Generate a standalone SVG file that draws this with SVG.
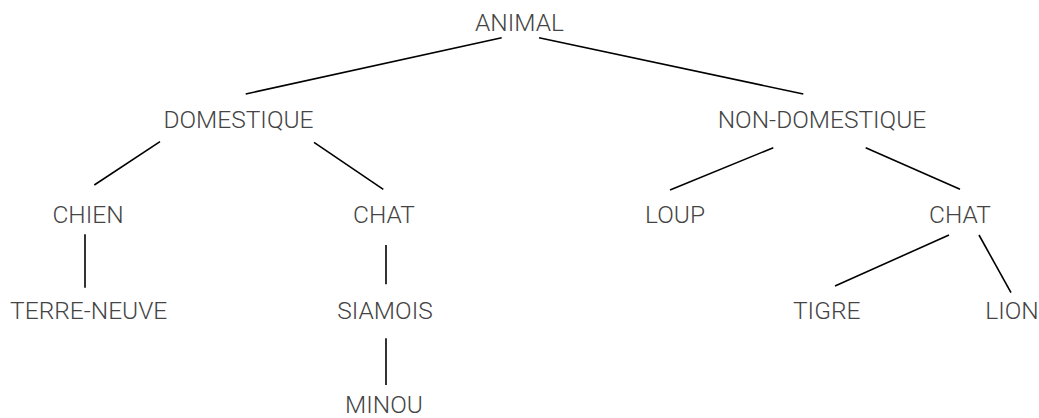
<svg xmlns="http://www.w3.org/2000/svg" width="1039" height="418" viewBox="0 0 1039 418">
<style>
.n text{font-family:Roboto,"Liberation Sans",sans-serif;font-weight:300;font-size:24.5px;fill:#444;text-anchor:middle}
.e line{stroke:#000;stroke-width:1.6;stroke-linecap:butt}
</style>
<rect width="1039" height="418" fill="#fff"/>
<g class="e" id="connectors">
<line x1="501.7" y1="37.7" x2="245.7" y2="94"/>
<line x1="539" y1="37.7" x2="803.3" y2="94"/>
<line x1="160" y1="141.7" x2="94.3" y2="185"/>
<line x1="314" y1="142.3" x2="383.3" y2="189.3"/>
<line x1="85" y1="234.3" x2="85" y2="287.7" stroke-width="2"/>
<line x1="386" y1="245" x2="386" y2="284.3" stroke-width="2"/>
<line x1="386" y1="338.3" x2="386" y2="385" stroke-width="2"/>
<line x1="773.3" y1="147.7" x2="670" y2="190"/>
<line x1="865.7" y1="147.7" x2="960" y2="189.3"/>
<line x1="949" y1="235" x2="835" y2="286"/>
<line x1="979" y1="235" x2="1011" y2="292.7"/>
</g>
<g class="n">
<g id="animal"><text x="519.5" y="31">ANIMAL</text></g>
<g id="domestique"><text x="238.5" y="128">DOMESTIQUE</text></g>
<g id="non-domestique"><text x="822" y="127.5">NON-DOMESTIQUE</text></g>
<g id="chien"><text x="88" y="223">CHIEN</text></g>
<g id="chat-domestique"><text x="384" y="223">CHAT</text></g>
<g id="loup"><text x="675" y="223">LOUP</text></g>
<g id="chat-sauvage"><text x="960" y="223">CHAT</text></g>
<g id="terre-neuve"><text x="88.7" y="318.5">TERRE-NEUVE</text></g>
<g id="siamois"><text x="385" y="318.5">SIAMOIS</text></g>
<g id="tigre"><text x="826.7" y="318.5">TIGRE</text></g>
<g id="lion"><text x="1012" y="318.5">LION</text></g>
<g id="minou"><text x="384" y="412.5">MINOU</text></g>
</g>
</svg>
